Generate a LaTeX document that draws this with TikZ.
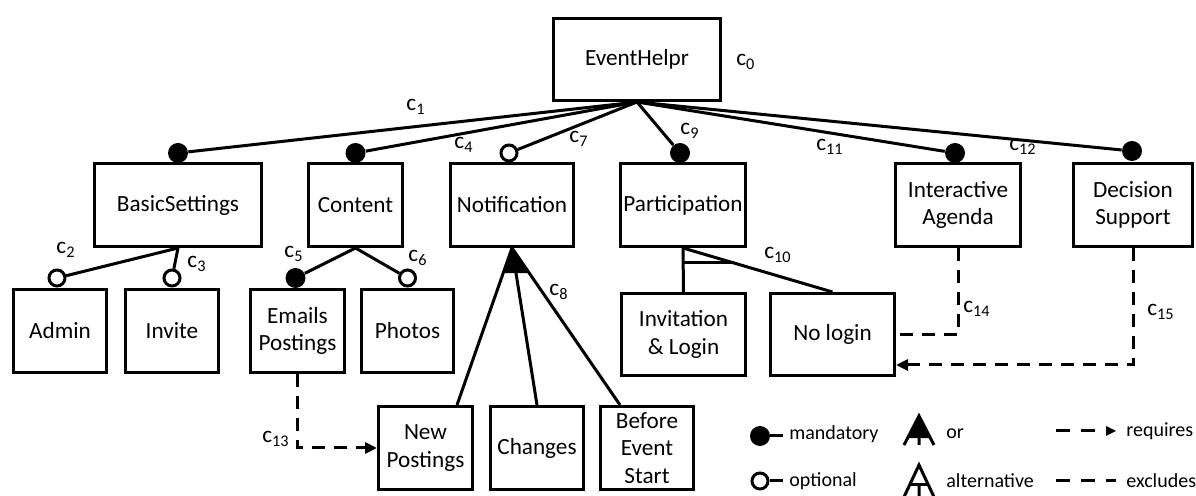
\documentclass[tikz,border=0pt]{standalone}
\usepackage{fontspec}
\setmainfont{Carlito}
\usetikzlibrary{calc,arrows.meta}
\begin{document}
\begin{tikzpicture}[x=0.5pt,y=-0.5pt,
  txt/.style={font=\fontsize{11.6}{13.6}\selectfont},
  legtxt/.style={font=\fontsize{10}{12}\selectfont,inner sep=0pt},
  fbox/.style={txt,draw=black,line width=1.7pt,inner sep=0pt,align=center},
  pbox/.style 2 args={minimum width=#1*0.5pt-1.7pt,minimum height=#2*0.5pt-1.7pt},
  conn/.style={line width=1.5pt,line cap=butt},
  mand/.style={circle,fill=black,minimum size=10pt,inner sep=0pt},
  opt/.style={circle,fill=white,draw=black,line width=1.5pt,minimum size=8pt,inner sep=0pt},
  dline/.style={line width=1.5pt,dash pattern=on 6.5pt off 4.5pt},
  req/.style={-{Triangle[length=6pt,width=5.5pt]}},
  lab/.style={txt,inner sep=0pt}
]
\fill[white] (0,0) rectangle (1196,496);
\useasboundingbox (0,0) rectangle (1196,496);

% ---------- feature boxes ----------
\node[fbox,pbox={170}{85}] (root) at (637,59.5) {EventHelpr};

\node[fbox,pbox={170}{86}] (bs) at (178,205) {BasicSettings};
\node[fbox,pbox={97}{86}]  (ct) at (355.5,205) {Content};
\node[fbox,pbox={126}{86}] (nt) at (512,205) {Notification};
\node[fbox,pbox={128}{86}] (pa) at (683,205) {Participation};
\node[fbox,pbox={128}{86}] (ia) at (958,205) {Interactive\\Agenda};
\node[fbox,pbox={122}{86}] (ds) at (1133,205) {Decision\\Support};

\node[fbox,pbox={96}{86}] (ad) at (60,331) {Admin};
\node[fbox,pbox={96}{86}] (iv) at (172,331) {Invite};
\node[fbox,pbox={97}{86}] (ep) at (297.5,331) {Emails\\Postings};
\node[fbox,pbox={95}{86}] (ph) at (407.5,331) {Photos};

\node[fbox,pbox={127}{85}] (il) at (683.5,334.5) {Invitation\\\& Login};
\node[fbox,pbox={127}{85}] (nl) at (832.5,334.5) {No login};

\node[fbox,pbox={97}{86}] (np) at (425.5,448) {New\\Postings};
\node[fbox,pbox={96}{86}] (ch) at (537,448) {Changes};
\node[fbox,pbox={96}{86}] (be) at (647,448) {Before\\Event\\Start};

% ---------- circle markers ----------
\node[mand] (mbs) at ($(bs.north)+(0,-9)$) {};
\node[mand] (mct) at ($(ct.north)+(0,-9)$) {};
\node[opt]  (ont) at ($(nt.north)+(-3,-9)$) {};
\node[mand] (mpa) at ($(pa.north)+(-3,-9)$) {};
\node[mand] (mia) at ($(ia.north)+(-3,-9)$) {};
\node[mand] (mds) at ($(ds.north)+(-1,-11)$) {};

\node[opt]  (oad) at ($(ad.north)+(-3,-10)$) {};
\node[opt]  (oiv) at ($(iv.north)+(0,-10)$) {};
\node[mand] (mep) at ($(ep.north)+(-2,-10)$) {};
\node[opt]  (oph) at ($(ph.north)+(0,-10)$) {};

% ---------- mandatory / optional connectors ----------
\draw[conn] (root.south) -- (mbs);
\draw[conn] (root.south) -- (mct);
\draw[conn] (root.south) -- (ont);
\draw[conn] (root.south) -- (mpa);
\draw[conn] (root.south) -- (mia);
\draw[conn] (root.south) -- (mds);

\draw[conn] (bs.south) -- (oad);
\draw[conn] (bs.south) -- (oiv);
\draw[conn] (ct.south) -- (mep);
\draw[conn] (ct.south) -- (oph);

% ---------- or group (Notification) ----------
\coordinate (npT) at ($(np.north)+(31.5,0)$);
\coordinate (chT) at (ch.north);
\coordinate (beT) at ($(be.north west)+(21,0)$);
\fill (nt.south) -- ($(nt.south)!0.16!(npT)$) -- ($(nt.south)!0.16!(beT)$) -- cycle;
\draw[conn] (nt.south) -- (npT);
\draw[conn] (nt.south) -- (chT);
\draw[conn] (nt.south) -- (beT);

% ---------- alternative group (Participation) ----------
\draw[conn] (pa.south) -- (il.north);
\draw[conn] (pa.south) -- (nl.north);
\draw[conn] ($(pa.south)!0.34!(il.north)$) -- ($(pa.south)!0.34!(nl.north)$);

% ---------- cross-tree constraints ----------
\draw[dline,req] (ep.south) |- (np.west);
\draw[dline] (ia.south) |- (nl.east);
\draw[dline,req] (ds.south) |- ($(nl.south east)+(0,-12)$);

% ---------- constraint labels ----------
\node[lab,anchor=west] (l0) at (736,62) {c\textsubscript{0}};
\node[lab] (l1)  at (416,107) {c\textsubscript{1}};
\node[lab] (l2)  at (66,250)  {c\textsubscript{2}};
\node[lab] (l3)  at (197,264) {c\textsubscript{3}};
\node[lab] (l4)  at (464,145) {c\textsubscript{4}};
\node[lab] (l5)  at (294,254) {c\textsubscript{5}};
\node[lab] (l6)  at (418,258) {c\textsubscript{6}};
\node[lab] (l7)  at (579,139) {c\textsubscript{7}};
\node[lab] (l8)  at (559,292) {c\textsubscript{8}};
\node[lab] (l9)  at (690,131) {c\textsubscript{9}};
\node[lab] (l10) at (778,255) {c\textsubscript{10}};
\node[lab] (l11) at (830,147) {c\textsubscript{11}};
\node[lab] (l12) at (1023,147) {c\textsubscript{12}};
\node[lab] (l13) at (276,439) {c\textsubscript{13}};
\node[lab] (l14) at (977,309) {c\textsubscript{14}};
\node[lab] (l15) at (1161,312) {c\textsubscript{15}};

% ---------- legend ----------
\node[mand] (lgm) at (760,436) {};
\coordinate (lgmE) at (783,436);
\draw[conn] (lgm) -- (lgmE);
\node[legtxt,anchor=west] (lgmt) at (789,434) {mandatory};

\node[opt] (lgo) at (760,481) {};
\coordinate (lgoE) at (783,481);
\draw[conn] (lgo) -- (lgoE);
\node[legtxt,anchor=west] (lgot) at (789,481) {optional};

% or symbol
\coordinate (orA) at (919,416);
\coordinate (orL) at (904,445);
\coordinate (orR) at (934,445);
\coordinate (orBL) at ($(orA)!0.76!(orL)$);
\coordinate (orBR) at ($(orA)!0.76!(orR)$);
\coordinate (orBM) at ($(orBL)!0.5!(orBR)$);
\coordinate (orM) at ($(orL)!0.5!(orR)$);
\fill (orA) -- (orBL) -- (orBR) -- cycle;
\draw[conn] (orL) -- (orA) -- (orR);
\draw[conn] (orBM) -- (orM);
\node[legtxt,anchor=west] (lgor) at (946,434) {or};

% alternative symbol
\coordinate (alA) at (919,465);
\coordinate (alL) at (904,497);
\coordinate (alR) at (934,497);
\coordinate (alBL) at ($(alA)!0.6!(alL)$);
\coordinate (alBR) at ($(alA)!0.6!(alR)$);
\coordinate (alBM) at ($(alBL)!0.5!(alBR)$);
\coordinate (alM) at ($(alL)!0.5!(alR)$);
\draw[conn] (alL) -- (alA) -- (alR);
\draw[conn] (alBL) -- (alBR);
\draw[conn] (alBM) -- (alM);
\node[legtxt,anchor=west] (lgal) at (946,481) {alternative};

% requires / excludes
\coordinate (rqS) at (1056,431);
\coordinate (rqD) at (1096,431);
\coordinate (rqT) at (1106,431);
\draw[dline,dash pattern=on 7pt off 5.5pt] (rqS) -- (rqD);
\fill ($(rqT)+(0,-5)$) -- ($(rqT)+(10,0)$) -- ($(rqT)+(0,5)$) -- cycle;
\node[legtxt,anchor=west] (lgrq) at (1126,431) {requires};

\coordinate (exS) at (1056,481);
\coordinate (exE) at (1116,481);
\draw[dline,dash pattern=on 7pt off 5.5pt] (exS) -- (exE);
\node[legtxt,anchor=west] (lgex) at (1126,481) {excludes};
\end{tikzpicture}
\end{document}
